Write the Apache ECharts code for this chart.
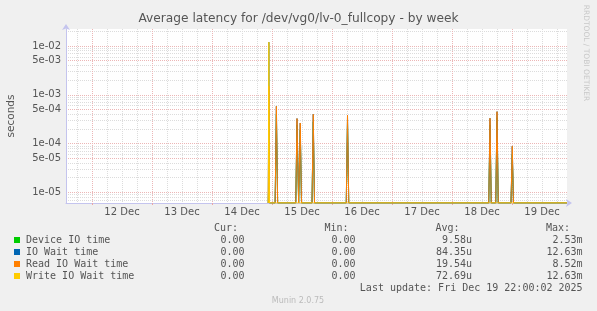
<!DOCTYPE html>
<html><head><meta charset="utf-8">
<script src="https://cdn.jsdelivr.net/npm/echarts@6/dist/echarts.min.js"></script>
<style>html,body{margin:0;padding:0;background:#f0f0f0}#c{width:597px;height:311px}</style>
</head><body><div id="c"></div>
<script>
// ---------- data ----------
const chartTitle = 'Average latency for /dev/vg0/lv-0_fullcopy - by week';
const yAxisName = 'seconds';
// hours since Fri 12 Dec 00:00
const xLabelHours = [12, 36, 60, 84, 108, 132, 156, 180];
const xLabels = ['12 Dec', '13 Dec', '14 Dec', '15 Dec', '16 Dec', '17 Dec', '18 Dec', '19 Dec'];
const yTickValues = [1e-5, 5e-5, 1e-4, 5e-4, 1e-3, 5e-3, 1e-2];
const yTickLabels = ['1e-05', '5e-05', '1e-04', '5e-04', '1e-03', '5e-03', '1e-02'];

const times     = [70.5, 70.75, 71.0, 73.25, 73.75, 74.25, 81.5, 82.0, 82.65, 83.3, 83.8, 88.0, 88.5, 89.0, 101.7, 102.2, 102.7, 158.7, 159.2, 159.7, 161.5, 162.0, 162.5, 167.6, 168.1, 168.6, 190.0];
const deviceIO  = [0, 2.2e-5, 0, 0, 4.0e-4, 0, 0, 2.4e-4, 0, 1.9e-4, 0, 0, 2.8e-4, 0, 0, 2.7e-4, 0, 0, 2.4e-4, 0, 0, 3.4e-4, 0, 0, 6.0e-5, 0, 0];
const ioWait    = [0, 1.2e-2, 0, 0, 5.8e-4, 0, 0, 3.25e-4, 0, 2.64e-4, 0, 0, 3.98e-4, 0, 0, 3.8e-4, 0, 0, 3.3e-4, 0, 0, 4.5e-4, 0, 0, 8.8e-5, 0, 0];
const readWait  = [0, 1.5e-3, 0, 0, 5.8e-4, 0, 0, 3.25e-4, 0, 2.64e-4, 0, 0, 3.98e-4, 0, 0, 3.8e-4, 0, 0, 3.3e-4, 0, 0, 4.5e-4, 0, 0, 8.8e-5, 0, 0];
const writeWait = [0, 1.2e-2, 0, 0, 0, 0, 0, 0, 0, 0, 0, 0, 0, 0, 0, 0, 0, 0, 0, 0, 0, 0, 0, 0, 0, 0, 0];

const seriesNames = ['Device IO time', 'IO Wait time', 'Read IO Wait time', 'Write IO Wait time'];
const seriesColors = ['#00cc00', '#0066b3', '#ff8000', '#ffcc00'];
const curVals = ['0.00', '0.00', '0.00', '0.00'];
const minVals = ['0.00', '0.00', '0.00', '0.00'];
const avgVals = ['9.58u', '84.35u', '19.54u', '72.69u'];
const maxVals = ['2.53m', '12.63m', '8.52m', '12.63m'];
const lastUpdate = 'Last update: Fri Dec 19 22:00:02 2025';
const footer = 'Munin 2.0.75';
const sideText = 'RRDTOOL / TOBI OETIKER';

// ---------- layout ----------
const X_MIN = -10.4, X_MAX = 190;
const Y_MIN = -5.219, Y_MAX = -1.651;
const SANS = '"DejaVu Sans", sans-serif';
const MONO = '"DejaVu Sans Mono", monospace';
const TXT = '#555';

const lg = v => v > 0 ? Math.log10(v) : Y_MIN;
const majorY = yTickValues.map(v => Math.log10(v));
const minorY = [];
for (let e = -6; e <= -2; e++) for (const m of [2, 3, 4, 6, 7, 8, 9]) {
  const l = Math.log10(m * Math.pow(10, e));
  if (l > Y_MIN && l < Y_MAX) minorY.push(l);
}
const majorX = [], minorX = [];
for (let h = -6; h <= X_MAX; h += 6) (h % 24 === 0 ? majorX : minorX).push(h);

function lbl(arrV, arrL, v) {
  let best = 0;
  for (let i = 1; i < arrV.length; i++) if (Math.abs(arrV[i] - v) < Math.abs(arrV[best] - v)) best = i;
  return arrL[best];
}

const allData = [deviceIO, ioWait, readWait, writeWait];
const series = allData.map((vals, k) => ({
  name: seriesNames[k], type: 'line', xAxisIndex: 0, yAxisIndex: 0,
  data: times.map((t, i) => [t, lg(vals[i])]),
  showSymbol: false, symbol: 'none', clip: true, animation: false,
  lineStyle: { color: seriesColors[k], width: 1 }, itemStyle: { color: seriesColors[k] }
}));

const gridLine = c => ({ show: true, lineStyle: { color: c, width: 1, type: [1, 1] } });
const axisCol = '#c4c4ee';

// graphic legend
const graphic = [];
const rowY = [240, 252, 264, 276];
const hdrY = 228;
const T = (text, x, y, font, fill, align) => ({ type: 'text', style: { text, x, y, font, fill, align: align || 'left', textAlign: align || 'left', verticalAlign: 'middle', textVerticalAlign: 'middle' } });
[['Cur:', 238], ['Min:', 348.5], ['Avg:', 459.6], ['Max:', 570]].forEach(([t, x]) => graphic.push(T(t, x, hdrY, '10px ' + MONO, TXT, 'right')));
seriesNames.forEach((n, i) => {
  graphic.push({ type: 'rect', shape: { x: 14, y: rowY[i] - 3, width: 6, height: 6 }, style: { fill: seriesColors[i] } });
  graphic.push(T(n, 26, rowY[i], '10px ' + MONO, TXT));
  [[curVals, 244.5], [minVals, 355.5], [avgVals, 472], [maxVals, 582.6]].forEach(([arr, x]) => graphic.push(T(arr[i], x, rowY[i], '10px ' + MONO, TXT, 'right')));
});
graphic.push(T(lastUpdate, 582.6, 288, '10px ' + MONO, TXT, 'right'));
graphic.push(T(footer, 298, 301, '8px ' + SANS, '#bbbbbb', 'center'));
graphic.push(T(chartTitle, 298.5, 19, '12.2px ' + SANS, TXT, 'center'));
const side = T(sideText, 0, 0, '7.5px ' + SANS, '#c8c8c8', 'center'); side.x = 586; side.y = 53; side.rotation = -Math.PI / 2; graphic.push(side);
const yname = T(yAxisName, 0, 0, '10.5px ' + SANS, TXT, 'center'); yname.x = 11; yname.y = 116; yname.rotation = Math.PI / 2; graphic.push(yname);

const option = {
  backgroundColor: '#f0f0f0',
  animation: false,
  grid: { left: 66, right: 30, top: 29, bottom: 108, show: true, backgroundColor: '#ffffff', borderWidth: 0, containLabel: false },
  xAxis: [
    { type: 'value', min: X_MIN, max: X_MAX, position: 'bottom',
      axisLine: { show: true, onZero: false, lineStyle: { color: axisCol, width: 1 }, symbol: ['none', 'arrow'], symbolSize: [6, 6], symbolOffset: [0, 5] },
      axisTick: { show: true, customValues: majorX, length: 2, inside: false, lineStyle: { color: '#eaa8a8' } },
      axisLabel: { show: true, customValues: xLabelHours, formatter: v => lbl(xLabelHours, xLabels, v), color: TXT, fontFamily: SANS, fontSize: 10, margin: 4 },
      splitLine: gridLine('#ecb6b6'), z: 1 },
    { type: 'value', min: X_MIN, max: X_MAX, position: 'top', show: true,
      axisLine: { show: false, onZero: false }, axisLabel: { show: false },
      axisTick: { show: false, customValues: minorX },
      splitLine: gridLine('#dcdcdc'), z: 0 }
  ],
  yAxis: [
    { type: 'value', min: Y_MIN, max: Y_MAX, position: 'left',
      axisLine: { show: true, onZero: false, lineStyle: { color: axisCol, width: 1 }, symbol: ['none', 'arrow'], symbolSize: [6, 6], symbolOffset: [0, 5] },
      axisTick: { show: false, customValues: majorY },
      axisLabel: { show: true, customValues: majorY, formatter: v => lbl(majorY, yTickLabels, v), color: TXT, fontFamily: SANS, fontSize: 10, margin: 5 },
      splitLine: gridLine('#ecb6b6'), z: 1 },
    { type: 'value', min: Y_MIN, max: Y_MAX, position: 'left', show: true,
      axisLine: { show: false, onZero: false }, axisLabel: { show: false },
      axisTick: { show: false, customValues: minorY },
      splitLine: gridLine('#dcdcdc'), z: 0 }
  ],
  series: series,
  graphic: graphic
};
const chart = echarts.init(document.getElementById('c'), null, { renderer: 'canvas' });
chart.setOption(option);
</script>
</body></html>
